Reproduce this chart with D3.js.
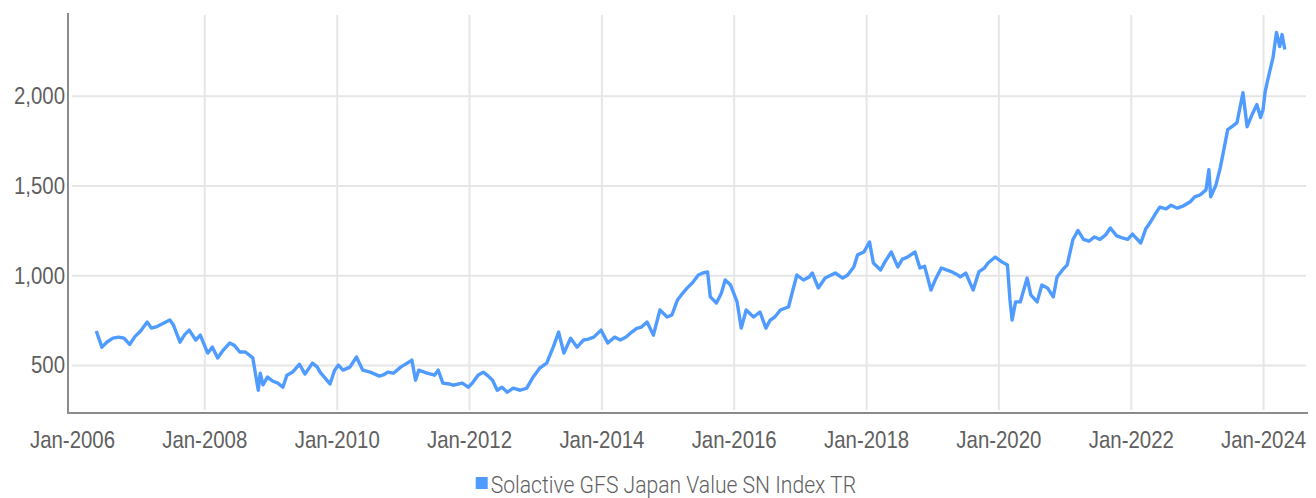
<!DOCTYPE html>
<html>
<head>
<meta charset="utf-8">
<script src="https://cdn.jsdelivr.net/npm/d3@7"></script>
<style>
  html, body { margin: 0; padding: 0; background: #fff; }
  svg { display: block; font-family: 'Roboto', 'Liberation Sans', sans-serif; font-weight: 300; }
  .grid line { stroke: #e6e6e6; stroke-width: 2; }
  .grid .domain { display: none; }
  .axis text { fill: #5f5f5f; font-size: 24px; }
  .axis .domain, .axis line { display: none; }
  .axis-line { stroke: #8c8c8c; stroke-width: 2; }
  .series { fill: none; stroke: #4f9bff; stroke-width: 3.4; stroke-linejoin: round; }
  .legend text { fill: #5f5f5f; font-size: 24px; }
</style>
</head>
<body>
<svg width="1316" height="498"></svg>
<script>
'use strict';

/* Series name. */
var seriesName = 'Solactive GFS Japan Value SN Index TR';

var dates = [
  '2006-05-15', '2006-06-15', '2006-07-15', '2006-08-15', '2006-09-15', '2006-10-15', '2006-11-15', '2006-12-15',
  '2007-01-15', '2007-02-20', '2007-03-15', '2007-04-15', '2007-05-15', '2007-06-25', '2007-07-15', '2007-08-20', '2007-09-15', '2007-10-10', '2007-11-15', '2007-12-10',
  '2008-01-20', '2008-02-15', '2008-03-15', '2008-04-15', '2008-05-20', '2008-06-15', '2008-07-15', '2008-08-15', '2008-09-25', '2008-10-25', '2008-11-05', '2008-11-20', '2008-12-15',
  '2009-01-15', '2009-02-10', '2009-03-10', '2009-04-01', '2009-05-01', '2009-06-10', '2009-07-10', '2009-08-20', '2009-09-15', '2009-10-01', '2009-11-25', '2009-12-20',
  '2010-01-10', '2010-02-05', '2010-03-15', '2010-04-20', '2010-05-25', '2010-06-20', '2010-07-05', '2010-08-25', '2010-09-15', '2010-10-10', '2010-11-10', '2010-12-20',
  '2011-01-25', '2011-02-20', '2011-03-12', '2011-03-30', '2011-05-15', '2011-06-25', '2011-07-15', '2011-08-10', '2011-09-15', '2011-10-05', '2011-11-25', '2011-12-28',
  '2012-01-20', '2012-02-20', '2012-03-20', '2012-04-15', '2012-05-10', '2012-06-05', '2012-07-01', '2012-07-31', '2012-09-01', '2012-10-10', '2012-11-15', '2012-12-20',
  '2013-01-25', '2013-03-05', '2013-04-10', '2013-05-10', '2013-06-08', '2013-07-15', '2013-08-20', '2013-09-25', '2013-10-20', '2013-11-20', '2013-12-30',
  '2014-02-05', '2014-03-15', '2014-04-15', '2014-05-15', '2014-06-10', '2014-07-15', '2014-08-10', '2014-09-10', '2014-10-15', '2014-11-20', '2014-12-30',
  '2015-01-25', '2015-02-25', '2015-03-25', '2015-04-20', '2015-05-20', '2015-06-20', '2015-07-15', '2015-08-10', '2015-08-25', '2015-09-28', '2015-10-25', '2015-11-15', '2015-12-15',
  '2016-01-20', '2016-02-12', '2016-03-10', '2016-04-20', '2016-05-25', '2016-06-27', '2016-07-20', '2016-08-15', '2016-09-15', '2016-10-30', '2016-11-20', '2016-12-15',
  '2017-01-20', '2017-02-20', '2017-03-10', '2017-04-12', '2017-05-20', '2017-06-20', '2017-07-15', '2017-08-25', '2017-09-20', '2017-10-25', '2017-11-15', '2017-12-20',
  '2018-01-20', '2018-02-10', '2018-03-22', '2018-04-15', '2018-05-20', '2018-06-25', '2018-07-20', '2018-08-15', '2018-09-28', '2018-10-25', '2018-11-20', '2018-12-25',
  '2019-01-20', '2019-02-20', '2019-03-20', '2019-04-20', '2019-05-25', '2019-06-05', '2019-07-05', '2019-08-15', '2019-09-15', '2019-10-15', '2019-11-05', '2019-12-15',
  '2020-01-20', '2020-02-20', '2020-03-05', '2020-03-17', '2020-04-05', '2020-05-01', '2020-06-08', '2020-06-28', '2020-08-02', '2020-08-28', '2020-09-28', '2020-10-30', '2020-11-20', '2020-12-20',
  '2021-01-15', '2021-02-15', '2021-03-15', '2021-04-15', '2021-05-15', '2021-06-15', '2021-07-15', '2021-08-15', '2021-09-10', '2021-10-15', '2021-11-15', '2021-12-15',
  '2022-01-10', '2022-02-25', '2022-03-25', '2022-04-15', '2022-05-15', '2022-06-10', '2022-07-15', '2022-08-10', '2022-09-15', '2022-10-15', '2022-11-25', '2022-12-20',
  '2023-01-20', '2023-02-20', '2023-03-08', '2023-03-18', '2023-04-15', '2023-05-10', '2023-06-20', '2023-07-15', '2023-08-10', '2023-09-12', '2023-10-05', '2023-10-30', '2023-11-28', '2023-12-18',
  '2024-01-01', '2024-01-12', '2024-01-25', '2024-02-10', '2024-02-25', '2024-03-15', '2024-04-02', '2024-04-15', '2024-04-30'
];

/* Index level (TR) for each date. */
var values = [
  690, 600, 630, 650, 656, 650, 615, 660,
  690, 740, 706, 715, 730, 751, 723, 628, 670, 695, 640, 667,
  567, 600, 540, 584, 623, 610, 573, 573, 540, 360, 455, 390, 433,
  410, 400, 377, 444, 460, 505, 450, 511, 490, 461, 395, 470,
  500, 472, 489, 545, 472, 465, 461, 439, 445, 461, 455, 489,
  511, 528, 416, 472, 455, 444, 472, 400, 395, 388, 400, 377,
  400, 444, 461, 440, 416, 360, 377, 349, 372, 360, 372, 433,
  483, 511, 600, 684, 567, 650, 600, 640, 645, 656, 695,
  623, 656, 640, 655, 678, 705, 712, 740, 667, 807, 768,
  779, 863, 900, 930, 960, 1002, 1013, 1019, 880, 846, 900, 974, 946,
  852, 706, 807, 768, 796, 706, 750, 768, 807, 824, 907, 1002,
  974, 990, 1013, 930, 985, 1000, 1013, 985, 1000, 1047, 1114, 1130,
  1186, 1069, 1030, 1075, 1130, 1047, 1090, 1100, 1130, 1041, 1050, 918,
  980, 1041, 1030, 1019, 1000, 991, 1013, 918, 1019, 1040, 1069, 1102,
  1075, 1058, 863, 751, 852, 852, 985, 891, 852, 946, 930, 880, 991, 1030,
  1058, 1198, 1250, 1200, 1190, 1214, 1200, 1225, 1264, 1220, 1209, 1200,
  1230, 1180, 1260, 1290, 1340, 1380, 1370, 1390, 1374, 1385, 1410, 1437,
  1449, 1476, 1588, 1437, 1500, 1600, 1812, 1830, 1851, 2017, 1828, 1890, 1951, 1879,
  1923, 2020, 2080, 2150, 2213, 2353, 2274, 2341, 2258
];

/* Axis ticks. */
var xTickYears = [2006, 2008, 2010, 2012, 2014, 2016, 2018, 2020, 2022, 2024];
var yTicks = [500, 1000, 1500, 2000];

/* Horizontal squeeze to mimic the condensed face of the original. */
var squeeze = 0.85;
var legendSqueeze = 0.88;

var parse = d3.timeParse('%Y-%m-%d');
var data = dates.map(function (d, i) {
  return {date: parse(d), value: values[i]};
});

var svg = d3.select('svg');

/* Plot area. */
var plot = {left: 72, right: 1306, top: 15, bottom: 410};

var x = d3.scaleTime()
  .domain([new Date(2006, 0, 1), new Date(2024, 7, 25)])
  .range([plot.left, plot.right]);

var y = d3.scaleLinear()
  .domain([250, 2450])
  .range([plot.bottom, plot.top]);

var xTicks = xTickYears.map(function (yr) { return new Date(yr, 0, 1); });

/* Vertical grid. */
svg.append('g')
  .attr('class', 'grid')
  .attr('transform', 'translate(0,' + plot.bottom + ')')
  .call(d3.axisBottom(x).tickValues(xTicks.slice(1)).tickSize(-(plot.bottom - plot.top)).tickFormat(''));

/* Horizontal grid. */
svg.append('g')
  .attr('class', 'grid')
  .attr('transform', 'translate(' + plot.left + ',0)')
  .call(d3.axisLeft(y).tickValues(yTicks).tickSize(-(plot.right - plot.left)).tickFormat(''));

/* Axis lines. */
svg.append('line').attr('class', 'axis-line')
  .attr('x1', plot.left - 4).attr('x2', plot.left - 4)
  .attr('y1', plot.top - 2).attr('y2', plot.bottom + 4);
svg.append('line').attr('class', 'axis-line')
  .attr('x1', plot.left - 5).attr('x2', plot.right + 2)
  .attr('y1', plot.bottom + 3).attr('y2', plot.bottom + 3);

/* Tick labels. */
svg.append('g')
  .attr('class', 'axis axis-x')
  .attr('transform', 'translate(0,' + (plot.bottom + 3) + ')')
  .call(d3.axisBottom(x).tickValues(xTicks).tickSize(0).tickPadding(18).tickFormat(d3.timeFormat('Jan-%Y')))
  .selectAll('text')
  .attr('transform', 'scale(' + squeeze + ',1)');

svg.append('g')
  .attr('class', 'axis axis-y')
  .attr('transform', 'translate(' + (plot.left - 7) + ',0)')
  .call(d3.axisLeft(y).tickValues(yTicks).tickSize(0).tickPadding(0).tickFormat(d3.format(',')))
  .selectAll('text')
  .attr('transform', 'scale(' + squeeze + ',1)');

/* The series. */
var line = d3.line()
  .x(function (d) { return x(d.date); })
  .y(function (d) { return y(d.value); });

svg.append('path')
  .datum(data)
  .attr('class', 'series')
  .attr('d', line);

/* Legend. */
var legend = svg.append('g').attr('class', 'legend');
var legendText = legend.append('text')
  .attr('x', 0).attr('y', 0)
  .text(seriesName);
var tw = legendText.node().getComputedTextLength() * legendSqueeze;
var lx = (1316 - (tw + 15)) / 2 + 8;
legend.attr('transform', 'translate(' + lx + ',493)');
legend.append('rect')
  .attr('x', 0).attr('y', -16).attr('width', 12).attr('height', 12)
  .attr('fill', '#4f9bff');
legendText.attr('transform', 'translate(15,0) scale(' + legendSqueeze + ',1)');
</script>
</body>
</html>
